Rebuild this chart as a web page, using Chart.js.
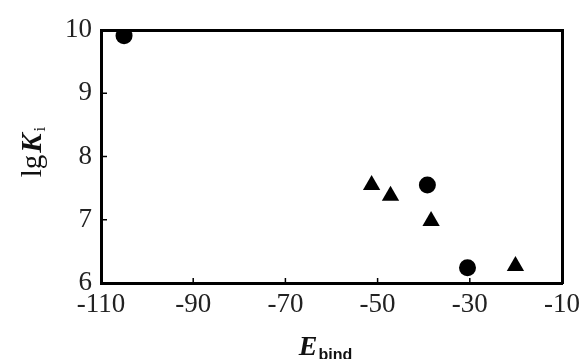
<!DOCTYPE html>
<html>
<head>
<meta charset="utf-8">
<script src="https://cdn.jsdelivr.net/npm/chart.js@4.4.1/dist/chart.umd.min.js"></script>
<style>
  html, body { margin: 0; padding: 0; background: #fff; }
  #wrap { width: 586px; height: 359px; position: relative; }
</style>
</head>
<body>
<div id="wrap"><canvas id="myChart" width="586" height="359"></canvas></div>
<script>
// data
const circleX = [-105, -39.2, -30.5];
const circleY = [9.91, 7.55, 6.24];
const triangleX = [-51.3, -47.2, -38.4, -20.1];
const triangleY = [7.55, 7.38, 6.98, 6.27];
const xTicks = [-110, -90, -70, -50, -30, -10];
const yTicks = [6, 7, 8, 9, 10];

const toPoints = (xs, ys) => xs.map((x, i) => ({ x: x, y: ys[i] }));
const serif = "'Liberation Serif', 'DejaVu Serif', serif";

// inward tick marks + axis titles with subscripts
const extras = {
  id: "extras",
  afterDraw(chart) {
    const ctx = chart.ctx;
    const area = chart.chartArea;
    const xs = chart.scales.x;
    const ys = chart.scales.y;
    ctx.save();
    ctx.strokeStyle = "#000";
    ctx.lineWidth = 1.5;
    xTicks.slice(1, -1).forEach((v) => {
      const px = xs.getPixelForValue(v);
      ctx.beginPath();
      ctx.moveTo(px, area.bottom);
      ctx.lineTo(px, area.bottom - 5);
      ctx.stroke();
    });
    yTicks.slice(1, -1).forEach((v) => {
      const py = ys.getPixelForValue(v);
      ctx.beginPath();
      ctx.moveTo(area.left, py);
      ctx.lineTo(area.left + 6, py);
      ctx.stroke();
    });

    // x title: E_bind
    ctx.fillStyle = "#111";
    ctx.textBaseline = "alphabetic";
    ctx.textAlign = "left";
    ctx.font = "bold italic 28px " + serif;
    const eW = ctx.measureText("E").width;
    ctx.font = "bold 16px 'Liberation Sans', Arial, sans-serif";
    const bW = ctx.measureText("bind").width;
    const x0 = 325 - (eW + bW) / 2;
    ctx.font = "bold italic 28px " + serif;
    ctx.fillText("E", x0, 355);
    ctx.font = "bold 16px 'Liberation Sans', Arial, sans-serif";
    ctx.fillText("bind", x0 + eW + 1, 360);

    // y title: lg K_i
    ctx.translate(41, 152);
    ctx.rotate(-Math.PI / 2);
    ctx.font = "29px " + serif;
    const lgW = ctx.measureText("lg").width;
    ctx.font = "bold italic 29px " + serif;
    const kW = ctx.measureText("K").width;
    ctx.font = "17px " + serif;
    const iW = ctx.measureText("i").width;
    let cx = -(lgW + kW + iW + 4) / 2;
    ctx.font = "29px " + serif;
    ctx.fillText("lg", cx, 0);
    cx += lgW + 2;
    ctx.font = "bold italic 29px " + serif;
    ctx.fillText("K", cx, 0);
    cx += kW + 2;
    ctx.font = "17px " + serif;
    ctx.fillText("i", cx, 4);
    ctx.restore();
  },
};

const ctx = document.getElementById("myChart").getContext("2d");
const myChart = new Chart(ctx, {
  type: "scatter",
  data: {
    datasets: [
      {
        label: "circles",
        data: toPoints(circleX, circleY),
        pointStyle: "circle",
        pointRadius: 8.5,
        backgroundColor: "#000",
        borderColor: "#000",
        borderWidth: 0,
      },
      {
        label: "triangles",
        data: toPoints(triangleX, triangleY),
        pointStyle: "triangle",
        pointRadius: 10,
        backgroundColor: "#000",
        borderColor: "#000",
        borderWidth: 0,
      },
    ],
  },
  options: {
    responsive: false,
    animation: false,
    layout: { padding: { top: 30, right: 20, left: 0, bottom: 0 } },
    plugins: { legend: { display: false }, tooltip: { enabled: false } },
    scales: {
      x: {
        type: "linear",
        min: -110,
        max: -10,
        afterBuildTicks: (s) => { s.ticks = xTicks.map((v) => ({ value: v })); },
        afterFit: (s) => { s.height = 76; },
        grid: { display: false, drawTicks: false },
        border: { display: true, color: "#000", width: 3 },
        ticks: {
          padding: 6,
          color: "#222",
          font: { family: serif, size: 27 },
          maxRotation: 0,
        },
      },
      y: {
        type: "linear",
        min: 6,
        max: 10,
        afterBuildTicks: (s) => { s.ticks = yTicks.map((v) => ({ value: v })); },
        afterFit: (s) => { s.width = 101; },
        grid: { display: false, drawTicks: false },
        border: { display: true, color: "#000", width: 3 },
        ticks: {
          padding: 9,
          color: "#222",
          font: { family: serif, size: 27 },
        },
      },
      xTop: {
        type: "linear",
        position: "top",
        min: -110,
        max: -10,
        afterFit: (s) => { s.height = 0; },
        grid: { display: false, drawTicks: false },
        border: { display: true, color: "#000", width: 3 },
        ticks: { display: false },
      },
      yRight: {
        type: "linear",
        position: "right",
        min: 6,
        max: 10,
        afterFit: (s) => { s.width = 0; },
        grid: { display: false, drawTicks: false },
        border: { display: true, color: "#000", width: 3 },
        ticks: { display: false },
      },
    },
  },
  plugins: [extras],
});
</script>
</body>
</html>
